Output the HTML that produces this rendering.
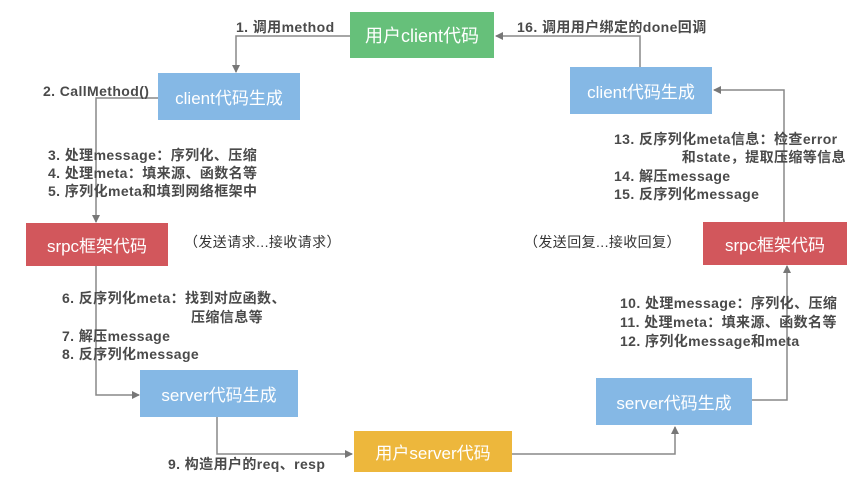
<!DOCTYPE html>
<html><head><meta charset="utf-8"><style>
body{margin:0;background:#fff;}
.wrap{position:relative;width:866px;height:485px;overflow:hidden;font-family:"Liberation Sans","Noto Sans CJK SC",sans-serif;}
.box{position:absolute;color:#fff;font-size:17px;display:flex;align-items:center;justify-content:center;white-space:nowrap;}
.g{background:#66c07a}.b{background:#85b8e5}.r{background:#d2575c}.y{background:#edb73c}
.t{position:absolute;font-size:14px;letter-spacing:0.4px;font-weight:bold;color:#4a4a4a;white-space:nowrap;line-height:16px;}
svg{position:absolute;left:0;top:0}
</style></head><body><div class="wrap">
<svg width="866" height="485">
<defs><marker id="a" markerWidth="8" markerHeight="8" refX="7" refY="4" orient="auto" markerUnits="userSpaceOnUse"><path d="M0,0 L8,4 L0,8 z" fill="#777"/></marker></defs>
<g fill="none" stroke="#888" stroke-width="1.5">
<path d="M350,36 H236 V72" marker-end="url(#a)"/>
<path d="M158,98 H96 V222" marker-end="url(#a)"/>
<path d="M96,266 V395 H139" marker-end="url(#a)"/>
<path d="M217,417 V454 H352" marker-end="url(#a)"/>
<path d="M512,454 H675 V427" marker-end="url(#a)"/>
<path d="M752,400 H787 V266" marker-end="url(#a)"/>
<path d="M784,222 V90 H714" marker-end="url(#a)"/>
<path d="M640,67 V36 H496" marker-end="url(#a)"/>
</g></svg>
<div class="box g" style="left:350px;top:12px;width:144px;height:46px;font-size:18px">用户client代码</div>
<div class="box b" style="left:158px;top:73px;width:142px;height:47px">client代码生成</div>
<div class="box b" style="left:570px;top:67px;width:142px;height:47px">client代码生成</div>
<div class="box r" style="left:26px;top:223px;width:142px;height:43px">srpc框架代码</div>
<div class="box r" style="left:703px;top:222px;width:144px;height:43px">srpc框架代码</div>
<div class="box b" style="left:140px;top:370px;width:158px;height:47px">server代码生成</div>
<div class="box b" style="left:596px;top:378px;width:156px;height:47px">server代码生成</div>
<div class="box y" style="left:354px;top:431px;width:158px;height:41px">用户server代码</div>
<div class="t" style="left:236px;top:19px">1. 调用method</div>
<div class="t" style="left:517px;top:19px">16. 调用用户绑定的done回调</div>
<div class="t" style="left:43px;top:83px">2. CallMethod()</div>
<div class="t" style="left:48px;top:147px">3. 处理message：序列化、压缩</div>
<div class="t" style="left:48px;top:165px">4. 处理meta：填来源、函数名等</div>
<div class="t" style="left:48px;top:183px">5. 序列化meta和填到网络框架中</div>
<div class="t" style="left:184px;top:234px;font-weight:normal;color:#333">（发送请求...接收请求）</div>
<div class="t" style="left:524px;top:234px;font-weight:normal;color:#333">（发送回复...接收回复）</div>
<div class="t" style="left:614px;top:131px">13. 反序列化meta信息：检查error</div>
<div class="t" style="right:20px;top:149px">和state，提取压缩等信息</div>
<div class="t" style="left:614px;top:168px">14. 解压message</div>
<div class="t" style="left:614px;top:186px">15. 反序列化message</div>
<div class="t" style="left:62px;top:290px">6. 反序列化meta：找到对应函数、</div>
<div class="t" style="left:191px;top:309px">压缩信息等</div>
<div class="t" style="left:62px;top:328px">7. 解压message</div>
<div class="t" style="left:62px;top:346px">8. 反序列化message</div>
<div class="t" style="left:620px;top:295px">10. 处理message：序列化、压缩</div>
<div class="t" style="left:620px;top:314px">11. 处理meta：填来源、函数名等</div>
<div class="t" style="left:620px;top:333px">12. 序列化message和meta</div>
<div class="t" style="left:168px;top:456px">9. 构造用户的req、resp</div>
</div></body></html>
